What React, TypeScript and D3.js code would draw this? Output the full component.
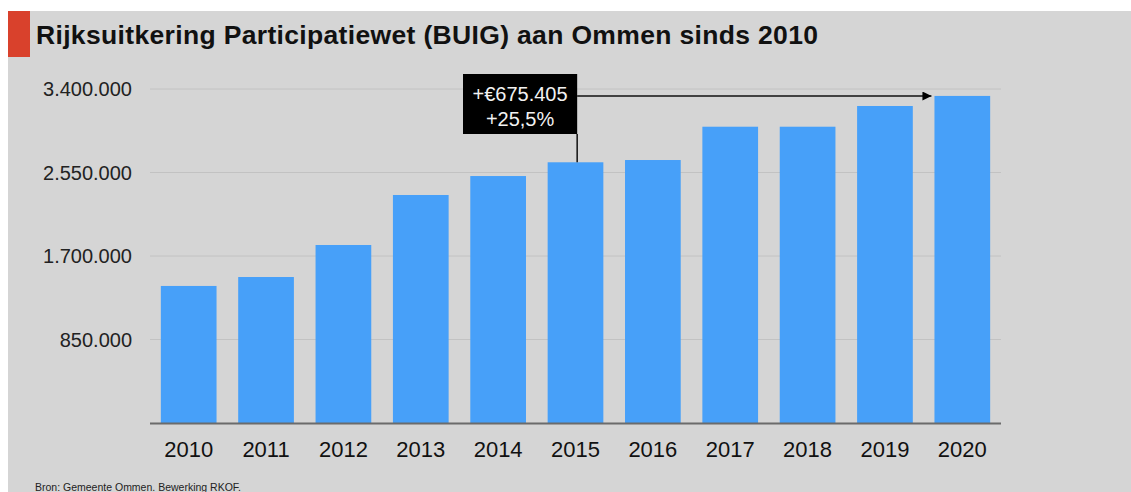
import React from "react";
import * as d3 from "d3";

const years = ["2010", "2011", "2012", "2013", "2014", "2015", "2016", "2017", "2018", "2019", "2020"];
const values = [1395000, 1486000, 1812000, 2321000, 2514000, 2654000, 2677000, 3016000, 3016000, 3227000, 3329405];
const yTicks = [850000, 1700000, 2550000, 3400000];
const yTickLabels = ["850.000", "1.700.000", "2.550.000", "3.400.000"];
const title = "Rijksuitkering Participatiewet (BUIG) aan Ommen sinds 2010";
const source = "Bron: Gemeente Ommen. Bewerking RKOF.";
const annotationLines = ["+€675.405", "+25,5%"];
const fromYear = "2015";
const toYear = "2020";

const W = 1131;
const H = 492;
const FONT = "'Liberation Sans', Arial, Helvetica, sans-serif";

export default function App() {
  const x = d3.scaleBand<string>().domain(years).range([150, 1001]).paddingInner(0.28).paddingOuter(0.14);
  const y = d3.scaleLinear().domain([0, 3400000]).range([423, 89]);

  const fromIdx = years.indexOf(fromYear);
  const fromTop = y(values[fromIdx]);
  const lineX = (x(fromYear) as number) + x.bandwidth() * 0.53;
  const arrowY = 96;
  const arrowEnd = (x(toYear) as number) - 3;
  const boxRight = lineX;
  const boxLeft = 463;
  const boxTop = 74;
  const boxBottom = 134;
  const boxCx = (boxLeft + boxRight) / 2;

  return (
    <svg width={W} height={H} style={{ position: "absolute", left: 0, top: 0, fontFamily: FONT }}>
      <defs>
        <marker id="arrowhead" viewBox="0 0 10 10" refX="10" refY="5" markerWidth="6" markerHeight="6" orient="auto" markerUnits="strokeWidth">
          <path d="M0,0 L10,5 L0,10 z" fill="#000" />
        </marker>
      </defs>
      <rect x={0} y={0} width={W} height={H} fill="#fff" />
      <rect x={8} y={11} width={W - 8} height={H - 11} fill="#d5d5d5" />
      <rect x={8} y={11} width={22} height={46} fill="#d9412c" />
      <text x={36} y={44} fontSize={26.5} fontWeight="bold" fill="#111" textLength={782} lengthAdjust="spacing">{title}</text>

      {yTicks.map((t, i) => (
        <g key={t}>
          <line x1={150} x2={1001} y1={y(t)} y2={y(t)} stroke="#c2c2c2" strokeWidth={1} />
          <text x={132} y={y(t) + 7} textAnchor="end" fontSize={20} fill="#222">{yTickLabels[i]}</text>
        </g>
      ))}

      {years.map((yr, i) => (
        <rect key={yr} x={x(yr)} y={y(values[i])} width={x.bandwidth()} height={y(0) - y(values[i])} fill="#47a0f9" />
      ))}

      <line x1={150} x2={1001} y1={y(0) + 0.5} y2={y(0) + 0.5} stroke="#6b6b6b" strokeWidth={2} />

      {years.map((yr) => (
        <text key={yr} x={(x(yr) as number) + x.bandwidth() / 2} y={457} textAnchor="middle" fontSize={22} fill="#111">{yr}</text>
      ))}

      <line x1={lineX} x2={lineX} y1={boxBottom} y2={fromTop} stroke="#111" strokeWidth={1.5} />
      <line x1={lineX} x2={arrowEnd} y1={arrowY} y2={arrowY} stroke="#111" strokeWidth={1.5} markerEnd="url(#arrowhead)" />
      <rect x={boxLeft} y={boxTop} width={boxRight - boxLeft} height={boxBottom - boxTop} fill="#000" />
      <text x={boxCx} y={101} textAnchor="middle" fontSize={20} fill="#f2f2f2">{annotationLines[0]}</text>
      <text x={boxCx} y={126} textAnchor="middle" fontSize={20} fill="#f2f2f2">{annotationLines[1]}</text>

      <text x={35} y={491} fontSize={10.5} fill="#222">{source}</text>
    </svg>
  );
}
